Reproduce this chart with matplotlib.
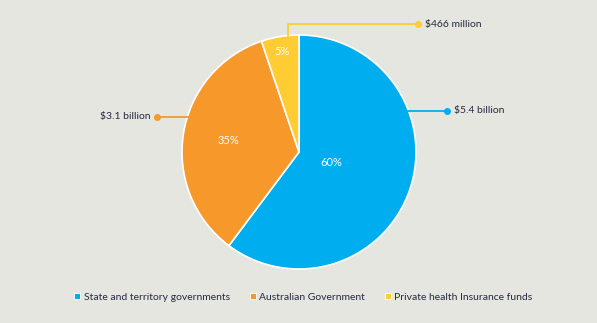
import numpy as np
import matplotlib.pyplot as plt
from matplotlib.lines import Line2D

plt.rcParams['font.family'] = ['Lato', 'DejaVu Sans']

categories = ["State and territory governments", "Australian Government",
              "Private health Insurance funds"]
values = [5.4, 3.1, 0.466]          # $ billion
pct_labels = ["60%", "35%", "5%"]
amount_labels = ["$5.4 billion", "$3.1 billion", "$466 million"]
colors = ["#00AEEF", "#F7982A", "#FFCC33"]

bg = "#E6E6E1"
txt = "#252A40"

fig = plt.figure(figsize=(5.97, 3.23), dpi=100, facecolor=bg)
ax = fig.add_axes([0, 0, 1, 1])
ax.set_facecolor(bg)
ax.axis("off")

cx, cy, r = 299, 171, 117
wedges, _ = ax.pie(values, colors=colors, startangle=90, counterclock=False,
                   center=(cx, cy), radius=r,
                   wedgeprops=dict(edgecolor="white", linewidth=1.2))
ax.set_xlim(0, 597)
ax.set_ylim(0, 323)
ax.set_aspect("equal")

# percentage labels inside slices
pct_dist = [0.29, 0.61, 0.87]
for w, lab, d in zip(wedges, pct_labels, pct_dist):
    ang = np.deg2rad((w.theta1 + w.theta2) / 2)
    ax.text(cx + d * r * np.cos(ang), cy + d * r * np.sin(ang), lab,
            color="white", fontsize=8, ha="center", va="center")

# leader lines with amounts
leaders = [
    [(397, 212), (447, 212)],
    [(197, 206), (157, 206)],
    [(288, 287), (288, 299), (418, 299)],
]
for w, lab, pts, col in zip(wedges, amount_labels, leaders, colors):
    xs, ys = zip(*pts)
    ax.plot(xs, ys, color=col, lw=1.3, solid_capstyle="round")
    ax.plot(xs[-1], ys[-1], "o", color=col, ms=4)
    if xs[-1] > xs[0]:
        ax.text(xs[-1] + 7, ys[-1], lab, color=txt, fontsize=7.5,
                ha="left", va="center")
    else:
        ax.text(xs[-1] - 6, ys[-1], lab, color=txt, fontsize=7.5,
                ha="right", va="center")

handles = [Line2D([], [], marker="s", ls="", color=c, markersize=4.5,
                  markeredgecolor="white", markeredgewidth=0.6) for c in colors]
fig.legend(handles, categories, loc="center", bbox_to_anchor=(0.508, 0.08),
           ncol=3, frameon=False, fontsize=7.5, labelcolor=txt,
           handlelength=0.6, handletextpad=0.3, columnspacing=1.9)

fig.savefig("out.png", dpi=100, facecolor=bg)
